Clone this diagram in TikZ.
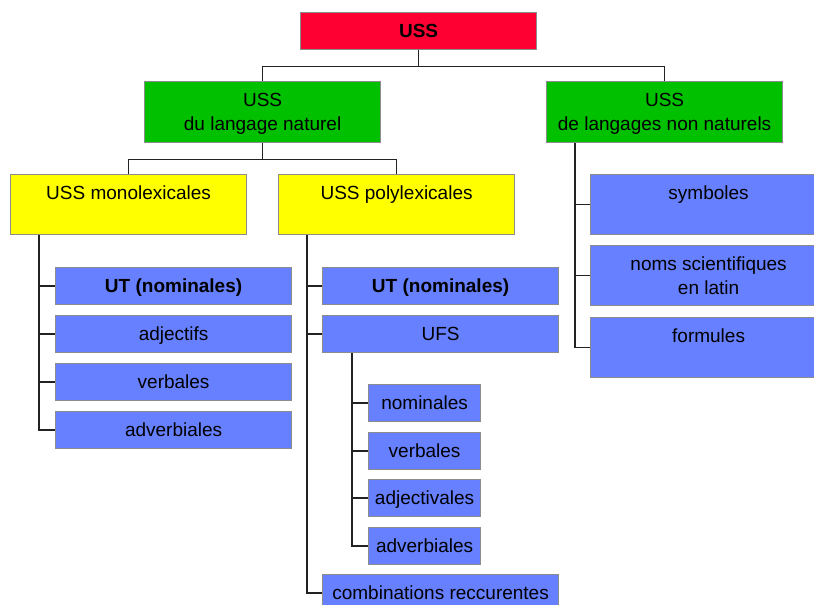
\documentclass[tikz,border=0pt]{standalone}
\usepackage{fontspec}
\setmainfont{Liberation Sans}
\definecolor{boxgray}{HTML}{8C8C8C}
\definecolor{linegray}{HTML}{222222}
\definecolor{ussred}{HTML}{FF0033}
\definecolor{ussgreen}{HTML}{00C000}
\definecolor{ussyellow}{HTML}{FFFF00}
\definecolor{ussblue}{HTML}{6680FF}
\tikzset{
  box/.style={draw=boxgray, line width=1.2pt, anchor=north west,
    inner xsep=0pt, inner ysep=0pt, minimum width=236pt,
    text height=25pt, text depth=12pt, align=center,
    font=\fontsize{19}{24}\selectfont},
  tallbox/.style={text depth=35pt},
  twolines/.style={text height=49pt, text depth=11pt},
  redbox/.style={box, fill=ussred, font=\fontsize{19}{24}\selectfont\bfseries},
  greenbox/.style={box, twolines, fill=ussgreen, text depth=12pt},
  yellowbox/.style={box, tallbox, fill=ussyellow},
  bluebox/.style={box, fill=ussblue},
  smallbox/.style={bluebox, minimum width=112pt},
  link/.style={draw=linegray, line width=1.4pt}
}
\begin{document}
\begin{tikzpicture}[x=1pt,y=-1pt]
\clip (0,0) rectangle (814,605);

% Top levels
\node[redbox] (uss) at (300,12) {USS};
\node[greenbox] (nat) at (144,81) {USS\\du langage naturel};
\node[greenbox] (nonnat) at (546,81) {USS\\de langages non naturels};
\node[yellowbox] (mono) at (10,174) {USS monolexicales};
\node[yellowbox] (poly) at (278,174) {USS polylexicales};

% Monolexicales
\node[bluebox, font=\fontsize{19}{24}\selectfont\bfseries] (utmono) at (55,267) {UT (nominales)};
\node[bluebox] (adj) at (55,315) {adjectifs};
\node[bluebox] (verbmono) at (55,363) {verbales};
\node[bluebox] (advmono) at (55,411) {adverbiales};

% Polylexicales
\node[bluebox, font=\fontsize{19}{24}\selectfont\bfseries] (utpoly) at (322,267) {UT (nominales)};
\node[bluebox] (ufs) at (322,315) {UFS};
\node[smallbox] (nomufs) at (368,384) {nominales};
\node[smallbox] (verbufs) at (368,432) {verbales};
\node[smallbox] (adjufs) at (368,479) {adjectivales};
\node[smallbox] (advufs) at (368,527) {adverbiales};
\node[bluebox] (combi) at (322,574) {combinations reccurentes};

% Langages non naturels
\node[bluebox, tallbox] (symb) at (590,174) {symboles};
\node[bluebox, twolines] (noms) at (590,245) {noms scientifiques\\en latin};
\node[bluebox, tallbox] (form) at (590,317) {formules};

% Connectors
\draw[link] (uss.south) -- ++(0,16) -| (nat.north);
\draw[link] (uss.south) -- ++(0,16) -| (nonnat.north);
\draw[link] (nat.south) -- ++(0,16) -| (mono.north);
\draw[link] (nat.south) -- ++(0,16) -| (poly.north);
\foreach \c in {utmono,adj,verbmono,advmono}
  \draw[link] ([xshift=29pt]mono.south west) |- (\c.west);
\foreach \c in {utpoly,ufs,combi}
  \draw[link] ([xshift=29pt]poly.south west) |- (\c.west);
\foreach \c in {nomufs,verbufs,adjufs,advufs}
  \draw[link] ([xshift=30pt]ufs.south west) |- (\c.west);
\foreach \c in {symb,noms,form}
  \draw[link] ([xshift=29pt]nonnat.south west) |- (\c.west);

\end{tikzpicture}
\end{document}
